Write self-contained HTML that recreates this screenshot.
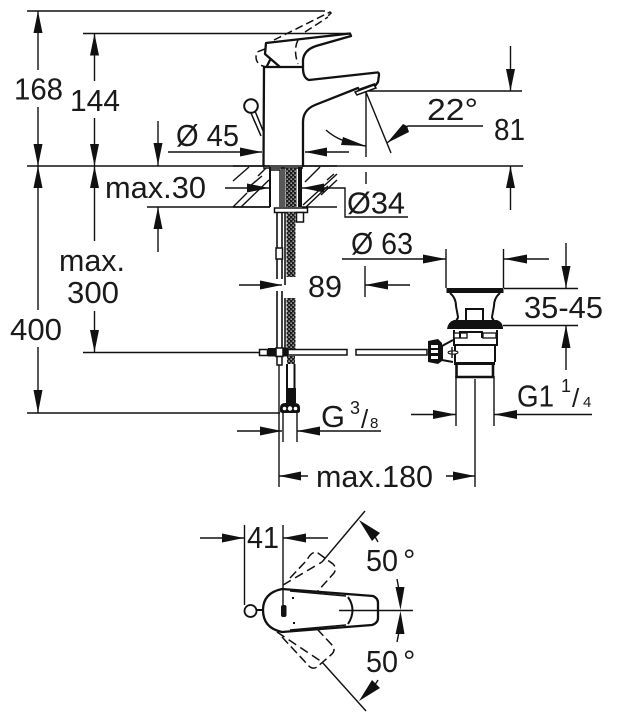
<!DOCTYPE html>
<html><head><meta charset="utf-8"><style>
html,body{margin:0;padding:0;background:#fff}
svg{display:block}
text{font-family:"Liberation Sans",sans-serif;fill:#1a1a1a;font-size:31px}
.t{fill:none;stroke:#111;stroke-width:1.4}
.m{fill:none;stroke:#111;stroke-width:2}
.k{fill:none;stroke:#111;stroke-width:2.3;stroke-linejoin:round;stroke-linecap:round}
.d{fill:none;stroke:#111;stroke-width:1.5;stroke-dasharray:10 5}
.h{fill:none;stroke:#111;stroke-width:1.4}
.a{fill:#111;stroke:none}
.b{fill:#111}
.w{fill:#fff;stroke:#111;stroke-width:1.5}
</style></head><body>
<svg width="617" height="724" viewBox="0 0 617 724" xmlns="http://www.w3.org/2000/svg">
<defs>
<pattern id="mesh" width="4" height="4" patternUnits="userSpaceOnUse"><rect width="4" height="4" fill="#1c1c1c"/><rect x="0.500" y="0.500" width="1.300" height="1.300" fill="#ddd"/><rect x="2.500" y="2.500" width="1.300" height="1.300" fill="#ddd"/></pattern>
</defs>

<!-- dimension lines -->
<path class="t" d="M27 11H325M83 33.5H350M27 166H523M367 91H522M147 207H270M83 352.5H265M27 413H280"/>
<path class="t" d="M38 11V70M38 107V310M38 347V413M94.500 33.500V81M94.500 118V241M94.500 311V352"/>
<path class="a" d="M38 11l-4.500 22h9zM38 166l-4.500-22h9zM38 166l-4.500 22h9zM38 413l-4.500-23h9zM94.500 33.500l-4.500 22h9zM94.500 166l-4.500-22h9zM94.500 166l-4.500 22h9zM94.500 352l-4.500-22h9z"/>
<path class="t" d="M158 121V166M168 152H262M305 152H349M158 207V252M225 188H269M302 188H345V217H408"/>
<path class="a" d="M158 165l-4.500-22h9zM262 152l-22-4.500v9zM305 152l22-4.500v9zM158 207l-4.500 22h9zM269 188l-22-4.500v9zM302 188l22-4.500v9z"/>

<!-- angle -->
<path class="t" d="M366 92V157M366 172V184M366 92L391 153M326 130Q340 143 366 146M387 143L408 126H483"/>
<path class="a" d="M366 146L343 137l-2 8zM387 143l22-11-2-6-4-2z"/>
<path class="t" d="M510.500 46V91M510.500 166V210"/>
<path class="a" d="M510.500 91l-4.500-22h9zM510.500 166l-4.500 22h9z"/>

<!-- hatching -->
<path class="t" d="M233 166H270M302 166H337M233 207H270M302 207H337"/>
<path class="h" d="M233 181L249 167M241 207L269 180M258 176L266 168M233 207L247 193M305 182L320 167M303 205L337 174M321 195L337 180M327 180L334 174M306 207L328 186M250 186L262 176"/>

<!-- faucet -->
<path class="k" d="M263.500 166L264 67H303M303 166V122Q303 110 315 105L358 88M303 68V60Q304 50 316 46L351 36L350 33.500L266 43L265 54L280 67M309 80Q303 78 303 68M309 80L377 72.500Q379 72 379 75L378 82L375 86M270 60L267 66"/>
<path class="w" d="M355 92L374 85L376 88L357 95Z" fill="#fff"/>
<path class="m" d="M358 90L375 84" />
<path class="d" d="M274 40L330 12L331 13L327 17M305 32L328 17M265 49L257 52Q254 60 260 65L266 67M298 40Q293 50 298 64" style="stroke-dasharray:8 4"/>
<circle cx="251" cy="106" r="6.800" fill="#fff" stroke="#111" stroke-width="2"/>
<path class="t" d="M251 113L261 136M255 111L264 133" style="stroke-width:1.500"/>

<!-- shank -->
<rect x="270" y="167" width="32" height="40" fill="#fff"/>
<path class="t" d="M263 168H303"/>
<path d="M269 167h2v40h-2zM298 167h4v40h-4z" class="b"/>
<path class="t" d="M271 170H280V207M284 167V207M282 167V207"/>
<rect x="285.500" y="168" width="11" height="39" fill="url(#mesh)"/>
<rect x="274.500" y="208" width="33" height="4.500" class="w"/>
<rect x="296.500" y="212.500" width="7" height="9.500" class="w"/>
<path d="M277 212.500V279M282 212.500V279M285 212V285" class="m" style="stroke-width:1.600"/>
<rect x="276" y="248" width="6.500" height="11" class="w"/>
<rect x="286.500" y="212.500" width="9" height="64.500" fill="url(#mesh)"/>
<path d="M277 291V349M282 291V349M285 298V349" class="m" style="stroke-width:1.600"/>
<rect x="286.500" y="298" width="9" height="53" fill="url(#mesh)"/>

<!-- coupler / rod -->
<rect x="259.500" y="349.500" width="8" height="6" class="w"/>
<rect x="268" y="348" width="8" height="8.500" class="b"/>
<rect x="276" y="348" width="7" height="8.500" class="w"/>
<rect x="283" y="347.500" width="5" height="9" class="b"/>
<rect x="288" y="349.500" width="59" height="5.500" class="w"/>
<rect x="356" y="349.500" width="71" height="5.500" class="w"/>
<rect x="277" y="356.500" width="5" height="8.500" class="w"/>
<rect x="287" y="356" width="8" height="8" fill="url(#mesh)"/>
<path class="m" d="M287 364V389M294.500 364V389"/>
<rect x="286" y="388" width="10" height="15" class="b"/>
<path d="M280 408Q280 403 285 403H295Q300 403 300 408V411Q300 413 297 413H283Q280 413 280 411Z" class="b"/>
<circle cx="284.500" cy="408.500" r="1.800" fill="#fff"/><circle cx="290" cy="408.500" r="2.200" fill="#fff"/><circle cx="295.500" cy="408.500" r="1.800" fill="#fff"/>

<!-- G 3/8, 89 -->
<path class="t" d="M279 365V487M283 412V442M297 412V442M237 431H282M297 431H381"/>
<path class="t" d="M239 285H282"/>
<path class="a" d="M282 431l-22-4.500v9zM297 431l23-4.500v9zM282 285l-22-4.500v9zM365 285l23-4.500v9z"/>
<path class="t" d="M365 266V297M365 285H410"/>

<!-- max.180 -->
<path class="t" d="M475 379V487M446 476H475M279 476H308"/>
<path class="a" d="M475 476l-22-4.500v9zM279 476l22-4.500v9z"/>

<!-- O63 -->
<path class="t" d="M446 249V288M503.500 249V288M342 259H446M504 259H549"/>
<path class="a" d="M446 259l-23-4.500v9zM504 259l23-4.500v9z"/>

<!-- waste -->
<path class="m" d="M450 293Q456 298 456 306L458 317Q458 319 456 320M500 293Q494 298 494 306L492 317Q492 319 494 320"/>
<rect x="446.500" y="288" width="57" height="5" class="b"/>
<path class="m" d="M466 320V309H483V320"/>
<path d="M454 320H497Q503 322 503 329H447Q448 322 454 320Z" class="b"/>
<path class="m" d="M454 330V345H497V330M455 345V362M495 345V362"/>
<rect x="454" y="333" width="13" height="5" class="w" style="stroke-width:1.300"/>
<rect x="483" y="333" width="13" height="5" class="w" style="stroke-width:1.300"/>
<path class="m" d="M460 338V332H482V338"/>
<path d="M454 362h41v3h-41z" class="b"/>
<path class="m" d="M456.500 365V377H493V365" style="stroke-width:2.600"/>
<path class="m" d="M453 340L442 346V360L453 362"/>
<path class="b" d="M428 341L438 339L442 343V361L438 364L428 362Z"/>
<path d="M431 345h7v3h-7zM431 350h7v3h-7zM431 356h7v3h-7z" fill="#fff"/>
<ellipse cx="453" cy="352.500" rx="5" ry="1.600" fill="#fff" stroke="#111"/>
<path class="t" d="M452 347V358"/>

<!-- 35-45 -->
<path class="t" d="M504 288.500H578M503 325.500H578M566 243V288M566 325V370"/>
<path class="a" d="M566 288l-4.500-22h9zM566 325l-4.500 23h9z"/>

<!-- G1 1/4 -->
<path class="t" d="M456 376V426M494 376V426M411 414.500H456M494 414.500H592"/>
<path class="a" d="M456 414.500l-23-4.500v9zM494 414.500l23-4.500v9z"/>

<!-- plan view -->
<path class="t" d="M244.500 525V605M283 525V605M200 538H244M283 538H328"/>
<path class="a" d="M244 538l-22-4.500v9zM283 538l23-4.500v9z"/>
<circle cx="250.500" cy="611" r="6" fill="#fff" stroke="#111" stroke-width="1.800"/>
<path class="m" d="M257 610H263"/>
<path class="k" d="M282 589Q263 593 263 610Q263 628 282 632L372 625Q378 623 378 618V603Q378 598 373 596L282 589Z"/>
<path class="t" d="M290 591L346 596M290 630L346 625"/>
<path class="m" d="M348 597Q357 610 348 624"/>
<rect x="281" y="605" width="5.500" height="12" rx="2" class="b"/>
<rect x="292" y="597" width="2" height="2" class="b"/><rect x="293" y="622" width="2" height="2" class="b"/>
<path class="t" d="M339 610.500H413M322 562L365 511M322 662L366 711"/>
<path class="d" d="M283 585L322 562M277 632L322 662" style="stroke-dasharray:9 5"/>
<path class="d" d="M290 578L307 560Q312 550 318 553L333 564Q337 568 334 573L317 592" style="stroke-dasharray:9 4"/>
<path class="d" d="M282 637L308 665Q312 670 317 667L332 654Q336 650 332 645L318 630" style="stroke-dasharray:9 4"/>
<path class="a" d="M359 520L372 541l8-8zM359 701L372 680l8 8z"/>
<path class="t" d="M373 533L378 542M373 688L378 680M397 579L399 590M397 642L399 632"/>
<path class="a" d="M400.500 610l-5-23h9zM400.500 611l-5 23h9z"/>

<!-- labels -->
<text x="14" y="99.500" textLength="49" lengthAdjust="spacingAndGlyphs">168</text>
<text x="70" y="111" textLength="50" lengthAdjust="spacingAndGlyphs">144</text>
<text x="176" y="146" textLength="63" lengthAdjust="spacingAndGlyphs">Ø 45</text>
<text x="105" y="198" textLength="101" lengthAdjust="spacingAndGlyphs">max.30</text>
<text x="427" y="120" textLength="51" lengthAdjust="spacingAndGlyphs">22°</text>
<text x="494" y="140" textLength="31" lengthAdjust="spacingAndGlyphs">81</text>
<text x="347" y="213.500" textLength="58" lengthAdjust="spacingAndGlyphs">Ø34</text>
<text x="351" y="254" textLength="62" lengthAdjust="spacingAndGlyphs">Ø 63</text>
<text x="59" y="271" textLength="66" lengthAdjust="spacingAndGlyphs">max.</text>
<text x="67" y="303" textLength="52" lengthAdjust="spacingAndGlyphs">300</text>
<text x="10" y="340" textLength="52" lengthAdjust="spacingAndGlyphs">400</text>
<text x="308" y="297" textLength="34" lengthAdjust="spacingAndGlyphs">89</text>
<text x="524" y="318" textLength="79" lengthAdjust="spacingAndGlyphs">35-45</text>
<text x="517" y="406.500" textLength="37" lengthAdjust="spacingAndGlyphs">G1</text>
<text x="561" y="392" style="font-size:18px">1</text>
<text x="572" y="407" style="font-size:26px">/</text>
<text x="583" y="407" style="font-size:15px">4</text>
<text x="321" y="427" textLength="24" lengthAdjust="spacingAndGlyphs">G</text>
<text x="350" y="414" style="font-size:18px">3</text>
<text x="361" y="428" style="font-size:26px">/</text>
<text x="370" y="428" style="font-size:15px">8</text>
<text x="316" y="487" textLength="117" lengthAdjust="spacingAndGlyphs">max.180</text>
<text x="247" y="548" textLength="32" lengthAdjust="spacingAndGlyphs">41</text>
<text x="366" y="571" textLength="32" lengthAdjust="spacingAndGlyphs">50</text>
<text x="403" y="571">°</text>
<text x="366" y="672" textLength="32" lengthAdjust="spacingAndGlyphs">50</text>
<text x="403" y="672">°</text>
</svg>
</body></html>
